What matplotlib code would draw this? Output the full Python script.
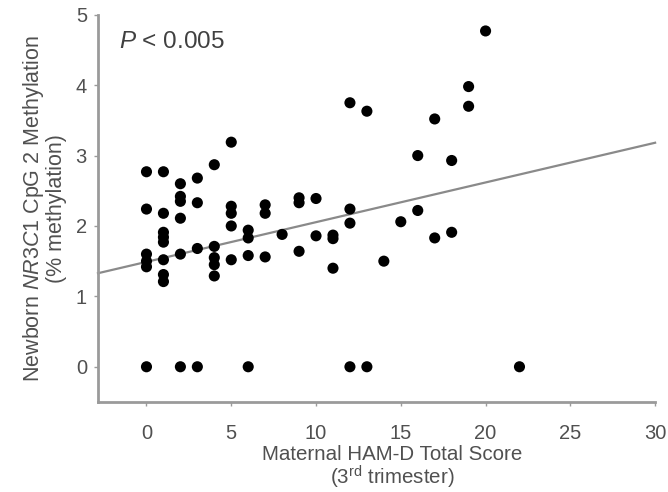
import numpy as np
import matplotlib
matplotlib.use('Agg')
import matplotlib.pyplot as plt

plt.rcParams['font.family'] = 'Liberation Sans'
plt.rcParams['mathtext.fontset'] = 'custom'
plt.rcParams['mathtext.rm'] = 'Liberation Sans'
plt.rcParams['mathtext.it'] = 'Liberation Sans:italic'

# HAM-D score (x) and methylation (y)
ham_d = [0, 0, 0, 0, 0, 0,
         1, 1, 1, 1, 1, 1, 1, 1,
         2, 2, 2, 2, 2, 2,
         3, 3, 3, 3,
         4, 4, 4, 4, 4,
         5, 5, 5, 5, 5,
         6, 6, 6, 6,
         7, 7, 7,
         8,
         9, 9, 9,
         10, 10,
         11, 11, 11,
         12, 12, 12, 12,
         13, 13,
         14, 15,
         16, 16,
         17, 17,
         18, 18,
         19, 19,
         20, 22]
methylation = [2.77, 2.24, 1.60, 1.50, 1.42, 0.0,
               2.77, 2.18, 1.91, 1.84, 1.77, 1.52, 1.31, 1.21,
               2.60, 2.42, 2.35, 2.11, 1.60, 0.0,
               2.68, 2.33, 1.68, 0.0,
               2.87, 1.71, 1.55, 1.45, 1.29,
               3.19, 2.28, 2.18, 2.00, 1.52,
               1.94, 1.83, 1.58, 0.0,
               2.30, 2.18, 1.56,
               1.88,
               2.40, 2.33, 1.64,
               2.39, 1.86,
               1.87, 1.82, 1.40,
               3.75, 2.24, 2.04, 0.0,
               3.63, 0.0,
               1.50, 2.06,
               3.00, 2.22,
               3.52, 1.83,
               2.93, 1.91,
               3.98, 3.70,
               4.77, 0.0]

# regression line shown in the figure
fit_intercept = 1.49
fit_slope = 0.0564

x_ticks = [0, 5, 10, 15, 20, 25, 30]
y_ticks = [0, 1, 2, 3, 4, 5]

fig = plt.figure(figsize=(6.68, 4.92), dpi=100)
ax = fig.add_axes([0.1467, 0.183, 0.834, 0.787])

xmin, xmax = -2.86, 30
ax.set_xlim(xmin, xmax)
ax.set_ylim(-0.5, 5)

xs = np.array([xmin, xmax])
ax.plot(xs, fit_intercept + fit_slope * xs, color='#8a8a8a', linewidth=1.6, zorder=2, clip_on=False)
ax.scatter(ham_d, methylation, s=64, color='black', edgecolors='none', zorder=3, clip_on=False)

for side in ['top', 'right']:
    ax.spines[side].set_visible(False)
for side in ['left', 'bottom']:
    ax.spines[side].set_color('#9a9a9a')
    ax.spines[side].set_linewidth(2.0)

ax.set_xticks(x_ticks)
ax.set_yticks(y_ticks)
ax.tick_params(direction='out', length=3, width=1, color='#9a9a9a',
               labelsize=14.5, labelcolor='#505050')
ax.tick_params(axis='x', pad=13)
ax.tick_params(axis='y', pad=5)

ax.set_xlabel('Maternal HAM-D Total Score\n(3$^{\\rm rd}$ trimester)',
              fontsize=14.8, color='#505050', linespacing=1.0)
ax.xaxis.set_label_coords(0.528, -0.111)
ax.set_ylabel('Newborn $\\it{NR3C1}$ CpG 2 Methylation\n(% methylation)',
              fontsize=15.5, color='#505050', labelpad=6, linespacing=1.05)

ax.text(-1.6, 4.62, '$\\it{P}$ < 0.005', fontsize=17.5, color='#404040',
        ha='left', va='center')

fig.savefig('out.png', dpi=100)
